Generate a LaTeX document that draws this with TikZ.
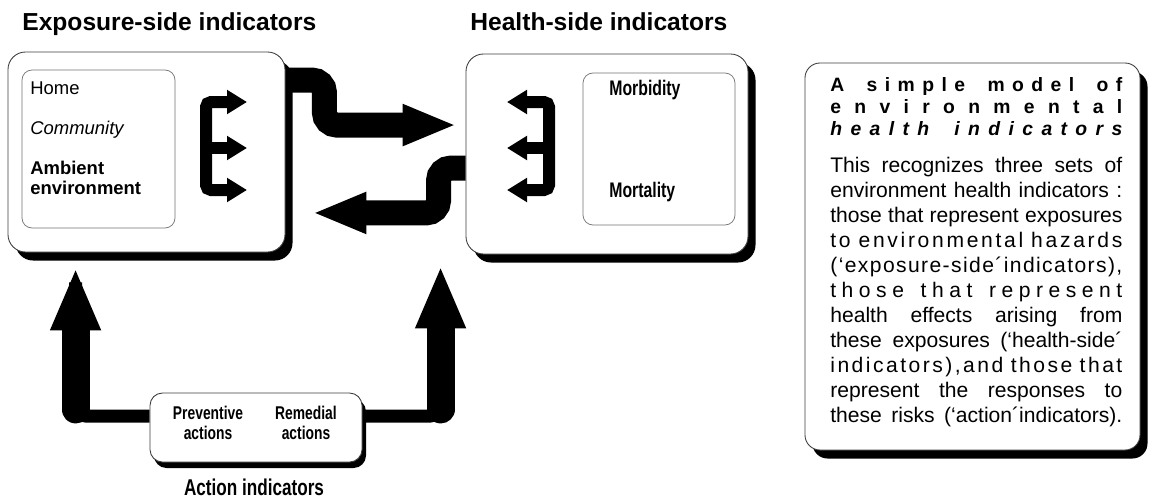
\documentclass[tikz,border=0pt]{standalone}
\usepackage{fontspec}
\setmainfont{Liberation Sans}
\newfontfamily\narrowsf{Liberation Sans}[FakeStretch=0.75]
\usetikzlibrary{arrows.meta,shadows,backgrounds}

% letter-spaced line: glue after every letter, wider glue between words
\ExplSyntaxOn
\NewDocumentCommand \spaced { m }
  {
    \seq_set_split:Nnn \l_tmpa_seq { ~ } { #1 }
    \seq_map_indexed_inline:Nn \l_tmpa_seq
      {
        \int_compare:nNnT { ##1 } > { 1 } { \hfil \hfil }
        \tl_map_inline:nn { ##2 } { ####1 \hfil }
      }
    \hskip 0pt plus -1fil
  }
\ExplSyntaxOff

\tikzset{
  outerbox/.style={draw=black!75, fill=white, line width=0.5pt, rounded corners=3.5mm, inner sep=0pt,
                   drop shadow={shadow xshift=1.5mm, shadow yshift=-1.7mm, fill=black, opacity=1}},
  innerbox/.style={draw=black!55, line width=0.4pt, rounded corners=2mm, inner sep=0pt},
  actbox/.style={draw=black!75, fill=white, line width=0.5pt, rounded corners=2.5mm, inner sep=0pt,
                 drop shadow={shadow xshift=0.8mm, shadow yshift=-1.2mm, fill=black, opacity=1}},
  headlbl/.style={font=\fontsize{14}{16}\selectfont\bfseries, inner sep=0pt, anchor=base west},
  itemlbl/.style={font=\fontsize{10.5}{11.5}\selectfont, inner sep=0pt, anchor=west, align=left},
  outlbl/.style={font=\narrowsf\fontsize{12}{14}\selectfont\bfseries, inner sep=0pt, anchor=west},
  actlbl/.style={font=\narrowsf\fontsize{10.5}{11.5}\selectfont\bfseries, inner sep=0pt, align=center},
  paneltitle/.style={font=\fontsize{11}{13}\selectfont\bfseries, inner sep=0pt, anchor=base west},
  panelline/.style={font=\fontsize{12}{14}\selectfont, inner sep=0pt, anchor=base west},
  bigarr/.style={line width=5mm, rounded corners=2.5mm, -{Triangle[length=10.8mm, width=7.6mm]}},
  actband/.style={line width=2.6mm, rounded corners=2mm},
  actarr/.style={line width=5.6mm, line cap=round, -{Triangle[length=12.6mm, width=9.2mm]}},
  fanarr/.style={line width=2.4mm, rounded corners=1mm,
                 {Triangle[length=4mm, width=4.6mm]}-{Triangle[length=4mm, width=4.6mm]}},
  fanone/.style={line width=2.4mm, -{Triangle[length=4mm, width=4.6mm]}},
}

\begin{document}
\begin{tikzpicture}[x=0.2mm, y=-0.2mm]
  \useasboundingbox (0,0) rectangle (1150,500);

  % the three indicator boxes and the text panel
  \node[outerbox, minimum width=55.4mm, minimum height=40mm] (expo) at (146.5,152) {};
  \node[innerbox, minimum width=30.6mm, minimum height=31.6mm] (expoin) at (98.5,149) {};
  \node[outerbox, minimum width=56.4mm, minimum height=40mm] (health) at (607,154) {};
  \node[innerbox, minimum width=30.4mm, minimum height=30.4mm] (healthin) at (659,149) {};
  \node[actbox, minimum width=42.4mm, minimum height=13.8mm] (act) at (256,427.5) {};
  \node[outerbox, rounded corners=3mm, minimum width=67mm, minimum height=77.4mm] (panel) at (972.5,256.5) {};

  % headings
  \node[headlbl] (expohead) at (22,30) {Exposure-side indicators};
  \node[headlbl] (healthhead) at (470,30) {Health-side indicators};
  \node[font=\narrowsf\fontsize{13}{15}\selectfont\bfseries, inner sep=0pt] (acthead) at (254,487) {Action indicators};

  % box contents
  \node[itemlbl] (home) at (30,88) {Home};
  \node[itemlbl, font=\fontsize{10.5}{11.5}\selectfont\itshape] (comm) at (30,130) {Community};
  \node[itemlbl, font=\fontsize{10.5}{11.5}\selectfont\bfseries] (amb) at (30,178) {Ambient\\environment};
  \node[outlbl] (morb) at (609,90) {Morbidity};
  \node[outlbl] (mort) at (609,192) {Mortality};
  \node[actlbl] (prev) at (208,423) {Preventive\\actions};
  \node[actlbl] (rem) at (306,423) {Remedial\\actions};

  % small fans inside the boxes
  \draw[fanarr] (247,102) -| (206,190) -- (247,190);
  \draw[fanone] (206,148) -- (247,148);
  \draw[fanarr] (507,102) -| (549,190) -- (507,190);
  \draw[fanone] (549,148) -- (507,148);

  % panel text
  \foreach \ttxt [count=\i] in {{\spaced{A simple model of}},
                                 {\spaced{environmental}},
                                 {\itshape\spaced{health indicators}}}
    \node[paneltitle] (ptitle\i) at (830,{69+\i*22}) {\makebox[58.4mm][s]{\ttxt}};
  \foreach \bline [count=\i] in {{This recognizes three sets of},
                                  {environment health indicators :},
                                  {those that represent exposures},
                                  {\spaced{to environmental hazards}},
                                  {\spaced{(`exposure-side´indicators),}},
                                  {\spaced{those that represent}},
                                  {health effects arising from},
                                  {these exposures (`health-side´},
                                  {\spaced{indicators),and those that}},
                                  {represent the responses to},
                                  {these risks (`action´indicators).}}
    \node[panelline] (pline\i) at (830,{147.6+\i*25}) {\makebox[58.4mm][s]{\bline}};

  % thick connectors go under the boxes
  \begin{scope}[on background layer]
    \fill[white] (0,0) rectangle (1150,500);
    \draw[bigarr] ([shift={(0,28.5)}]expo.north east) -- ++(39,0) |- ([shift={(-9,71.5)}]health.north west);
    \draw[bigarr] ([shift={(0,114.5)}]health.north west) -- ++(-27,0) |- ([shift={(27,-39.5)}]expo.south east);
    \draw[actband] ([shift={(0,-11.5)}]act.west) -| ([shift={(68,30)}]expo.south west);
    \draw[actarr] ([shift={(68,157)}]expo.south west) -- ([shift={(68,15)}]expo.south west);
    \draw[actband] ([shift={(0,-11.5)}]act.east) -| ([shift={(-25,30)}]health.south west);
    \draw[actarr] ([shift={(-25,155)}]health.south west) -- ([shift={(-25,11)}]health.south west);
  \end{scope}
\end{tikzpicture}
\end{document}
